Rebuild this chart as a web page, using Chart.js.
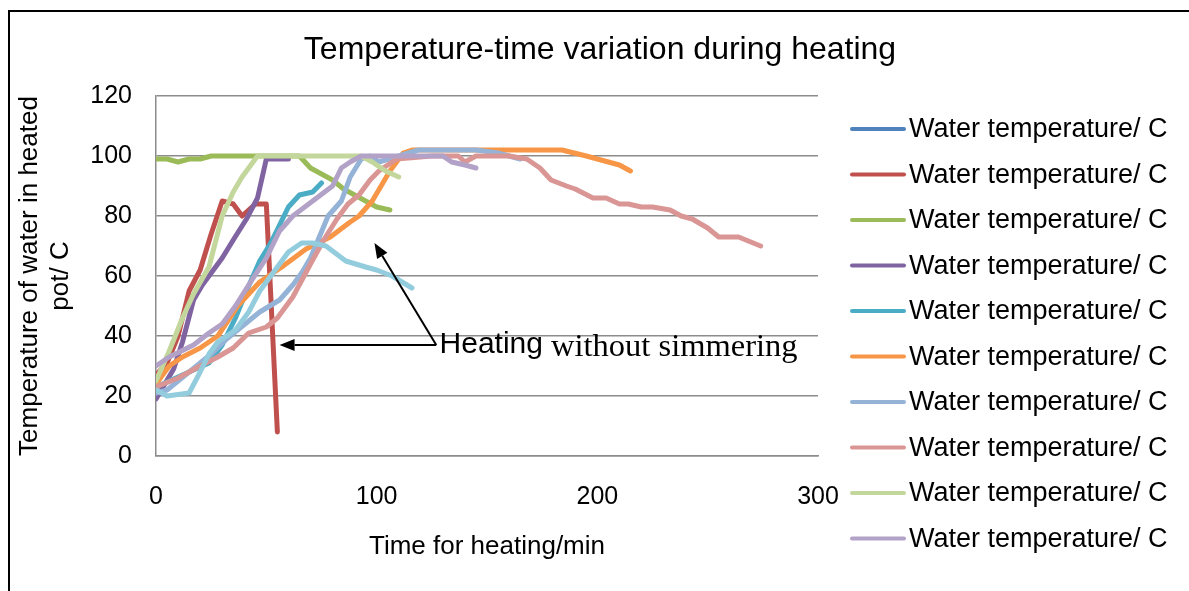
<!DOCTYPE html>
<html><head><meta charset="utf-8">
<script src="https://cdn.jsdelivr.net/npm/chart.js@4.4.1/dist/chart.umd.min.js"></script>
<style>html,body{margin:0;padding:0;background:#fff;overflow:hidden}#wrap{position:relative;width:1189px;height:591px}</style>
</head><body><div id="wrap"><canvas id="c" width="1189" height="591"></canvas></div>
<script>
const chartTitle = 'Temperature-time variation during heating';
const xAxisTitle = 'Time for heating/min';
const yAxisTitle = ['Temperature of water in heated', 'pot/ C'];
const seriesLabel = 'Water temperature/ C';
const xTicks = [0, 100, 200, 300];
const yTicks = [0, 20, 40, 60, 80, 100, 120];

// series 1 (dark blue) is not visible in the picture
const s1Time = [];
const s1Temp = [];
const s2Time = [0, 5, 10, 15, 20, 25, 30, 35, 39, 45, 50, 55];
const s2Temp = [27, 31, 40, 55, 62, 74, 85, 84, 80, 84, 84, 8];
const s3Time = [0, 5, 10, 15, 20, 25, 30, 40, 50, 60, 65, 70, 75, 80, 85, 90, 95, 100, 106];
const s3Temp = [99, 99, 98, 99, 99, 100, 100, 100, 100, 100, 100, 96, 94, 92, 89, 87, 85, 83, 82];
const s4Time = [0, 4, 8, 12, 17, 21, 26, 30, 35, 41, 46, 50, 55, 60];
const s4Temp = [19, 24, 29, 38, 52, 57, 62, 66, 72, 79, 86, 99, 99, 99];
const s5Time = [0, 6, 15, 24, 30, 36, 41, 47, 52, 56, 60, 65, 71, 75];
const s5Temp = [23, 25, 28, 31, 37, 46, 55, 65, 71, 77, 83, 87, 88, 91];
const s6Time = [0, 6, 12, 20, 28, 37, 47, 57, 68, 79, 88, 92, 98, 106, 112, 116, 130, 150, 170, 184, 195, 205, 210, 215];
const s6Temp = [24, 30, 33, 36, 40, 50, 58, 63, 69, 73, 78, 80, 85, 95, 101, 102, 102, 102, 102, 102, 100, 98, 97, 95];
const s7Time = [0, 5, 10, 15, 20, 25, 32, 42, 47, 56, 62, 66, 70, 74, 78, 84, 88, 93, 97, 101, 110, 119, 145, 155, 165];
const s7Temp = [21, 22, 25, 28, 31, 34, 39, 45, 48, 52, 57, 61, 66, 73, 80, 85, 93, 99, 100, 98, 100, 102, 102, 101, 99];
const s8Time = [0, 10, 20, 28, 35, 42, 50, 55, 62, 70, 76, 82, 87, 92, 97, 101, 109, 125, 137, 140, 145, 160, 168, 174, 179, 186, 190, 198, 204, 210, 214, 220, 225, 233, 238, 243, 250, 255, 259, 264, 274];
const s8Temp = [23, 26, 30, 33, 36, 41, 43, 46, 53, 64, 72, 79, 84, 87, 92, 95, 99, 100, 100, 98, 100, 100, 99, 96, 92, 90, 89, 86, 86, 84, 84, 83, 83, 82, 80, 79, 76, 73, 73, 73, 70];
const s9Time = [0, 6, 12, 17, 24, 30, 35, 39, 46, 55, 65, 75, 85, 93, 98, 104, 110];
const s9Temp = [25, 35, 46, 54, 63, 80, 88, 93, 100, 100, 100, 100, 100, 100, 98, 95, 93];
const s10Time = [0, 6, 17, 24, 30, 36, 42, 50, 56, 62, 71, 80, 84, 88, 93, 100, 110, 120, 130, 134, 140, 145];
const s10Temp = [30, 33, 37, 41, 44, 50, 57, 66, 75, 80, 85, 90, 96, 98, 100, 100, 100, 100, 100, 98, 97, 96];
// 11th series (light cyan) is drawn but its legend entry is cut off in the picture
const s11Time = [0, 5, 15, 20, 24, 28, 36, 42, 47, 52, 60, 66, 71, 77, 86, 95, 100, 107, 116];
const s11Temp = [22, 20, 21, 28, 34, 38, 42, 48, 55, 60, 68, 71, 71, 70, 65, 63, 62, 60, 56];

const seriesTimes = [s1Time, s2Time, s3Time, s4Time, s5Time, s6Time, s7Time, s8Time, s9Time, s10Time, s11Time];
const seriesTemps = [s1Temp, s2Temp, s3Temp, s4Temp, s5Temp, s6Temp, s7Temp, s8Temp, s9Temp, s10Temp, s11Temp];
const seriesColors = ['#4F81BD', '#C0504D', '#9BBB59', '#8064A2', '#4BACC6', '#F79646', '#95B3D7', '#D99694', '#C3D69B', '#B3A2C7', '#93CDDD'];
const legendCount = 10;

// annotation (data units)
const annText1 = 'Heating';
const annText2 = ' without simmering';
const annOrigin = [127, 37];
const annTips = [[56, 37], [99, 71]];
const annTextPos = [128.5, 37];

const SANS = 'Liberation Sans, Arial, sans-serif';
const SERIF = 'Liberation Serif, Times New Roman, serif';
const GRID = '#8C8C8C';

const datasets = seriesTimes.map((ts, i) => ({
  label: seriesLabel,
  data: ts.map((t, j) => ({x: t, y: seriesTemps[i][j]})),
  borderColor: seriesColors[i],
  backgroundColor: seriesColors[i],
  borderWidth: 5,
  pointRadius: 0,
  tension: 0,
  fill: false,
  borderCapStyle: 'round',
  borderJoinStyle: 'round',
  order: 100 - i
}));

const framePlugin = {
  id: 'frame',
  beforeDraw(chart) {
    const ctx = chart.ctx;
    ctx.save();
    ctx.fillStyle = '#fff';
    ctx.fillRect(0, 0, chart.width, chart.height);
    ctx.strokeStyle = '#000';
    ctx.lineWidth = 2;
    ctx.beginPath();
    ctx.moveTo(9, chart.height);
    ctx.lineTo(9, 11);
    ctx.lineTo(chart.width, 11);
    ctx.stroke();
    ctx.fillStyle = '#000';
    ctx.font = '32px ' + SANS;
    ctx.textAlign = 'center';
    ctx.textBaseline = 'middle';
    ctx.fillText(chartTitle, 600, 50);
    ctx.restore();
  }
};

function arrow(ctx, x0, y0, x1, y1) {
  const ang = Math.atan2(y1 - y0, x1 - x0);
  const L = 15, W = 6;
  const bx = x1 - L * Math.cos(ang), by = y1 - L * Math.sin(ang);
  ctx.beginPath();
  ctx.moveTo(x0, y0);
  ctx.lineTo(bx, by);
  ctx.stroke();
  ctx.beginPath();
  ctx.moveTo(x1, y1);
  ctx.lineTo(bx + W * Math.sin(ang), by - W * Math.cos(ang));
  ctx.lineTo(bx - W * Math.sin(ang), by + W * Math.cos(ang));
  ctx.closePath();
  ctx.fill();
}

const annotationPlugin = {
  id: 'annot',
  afterDatasetsDraw(chart) {
    const {ctx, scales: {x, y}} = chart;
    const ox = x.getPixelForValue(annOrigin[0]), oy = y.getPixelForValue(annOrigin[1]);
    ctx.save();
    ctx.strokeStyle = '#000';
    ctx.fillStyle = '#000';
    ctx.lineWidth = 2;
    annTips.forEach(tp => arrow(ctx, ox, oy, x.getPixelForValue(tp[0]), y.getPixelForValue(tp[1])));
    const tx = x.getPixelForValue(annTextPos[0]), ty = y.getPixelForValue(annTextPos[1]);
    ctx.textBaseline = 'middle';
    ctx.textAlign = 'left';
    ctx.font = '30px ' + SANS;
    ctx.fillText(annText1, tx, ty);
    const w = ctx.measureText(annText1).width;
    ctx.font = '32.5px ' + SERIF;
    ctx.fillText(annText2, tx + w, ty + 2);
    ctx.restore();
  }
};

const legendPlugin = {
  id: 'customLegend',
  afterDraw(chart) {
    const ctx = chart.ctx;
    ctx.save();
    ctx.font = '27px ' + SANS;
    ctx.textBaseline = 'middle';
    ctx.textAlign = 'left';
    ctx.lineCap = 'round';
    for (let i = 0; i < legendCount; i++) {
      const ds = chart.data.datasets[i];
      const yy = 129 + i * 45.5;
      ctx.strokeStyle = ds.borderColor;
      ctx.lineWidth = 4;
      ctx.beginPath();
      ctx.moveTo(852, yy);
      ctx.lineTo(904, yy);
      ctx.stroke();
      ctx.fillStyle = '#000';
      ctx.fillText(ds.label, 909, yy + 1);
    }
    ctx.restore();
  }
};

Chart.defaults.color = '#000';
Chart.defaults.font.family = SANS;

new Chart(document.getElementById('c'), {
  type: 'line',
  data: {datasets},
  options: {
    responsive: false,
    animation: false,
    devicePixelRatio: 1,
    layout: {padding: {top: 96, left: 10, right: 371, bottom: 10}},
    plugins: {
      legend: {display: false},
      tooltip: {enabled: false},
      title: {display: false}
    },
    scales: {
      x: {
        type: 'linear',
        min: 0, max: 300,
        afterBuildTicks(s) { s.ticks = xTicks.map(v => ({value: v})); },
        afterFit(s) { s.height = 125; s.paddingLeft = 0; s.paddingRight = 0; },
        grid: {display: false, drawTicks: false},
        border: {display: true, color: GRID, width: 1.5},
        ticks: {padding: 26, font: {size: 25, family: SANS}, color: '#000', maxRotation: 0},
        title: {display: true, text: xAxisTitle, color: '#000', font: {size: 26, family: SANS}, padding: {top: 0, bottom: 18.4}}
      },
      y: {
        min: 0, max: 120,
        afterBuildTicks(s) { s.ticks = yTicks.map(v => ({value: v})); },
        afterFit(s) { s.width = 146; s.paddingTop = 0; s.paddingBottom = 0; },
        grid: {display: true, drawTicks: false, color: GRID, lineWidth: 1.5},
        border: {display: true, color: GRID, width: 1.5},
        ticks: {padding: 24, font: {size: 25, family: SANS}, color: '#000'},
        title: {display: true, text: yAxisTitle, color: '#000', font: {size: 26, family: SANS}, padding: {top: 4.4, bottom: 0}}
      }
    }
  },
  plugins: [framePlugin, annotationPlugin, legendPlugin]
});
</script></body></html>
